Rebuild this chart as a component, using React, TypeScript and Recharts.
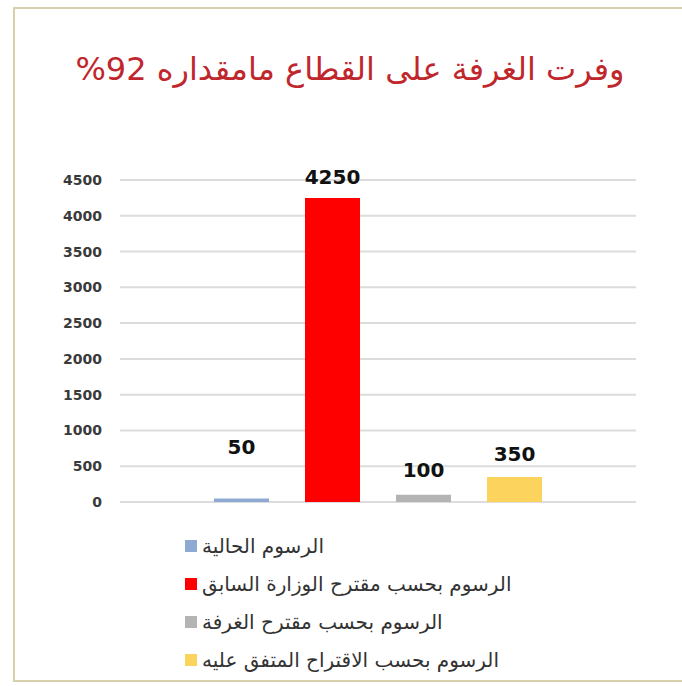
import React from 'react';
import { BarChart, Bar, XAxis, YAxis, CartesianGrid, LabelList } from 'recharts';

const seriesNames = [
  'الرسوم الحالية',
  'الرسوم بحسب مقترح الوزارة السابق',
  'الرسوم بحسب مقترح الغرفة',
  'الرسوم بحسب الاقتراح المتفق عليه',
];
const seriesValues = [50, 4250, 100, 350];
const seriesColors = ['#8eaad2', '#ff0000', '#b4b4b4', '#fbd35d'];
const labelOffsets = [44, 14, 18, 16];
const yTicks = [0, 500, 1000, 1500, 2000, 2500, 3000, 3500, 4000, 4500];
const title = 'وفرت الغرفة على القطاع مامقداره 92%';

const keys = seriesNames.map((_, i) => `s${i}`);
const row: Record<string, number | string> = { name: 'all' };
keys.forEach((k, i) => {
  row[k] = seriesValues[i];
});
const data = [row];

const App: React.FC = () => {
  return (
    <div style={{ position: 'absolute', left: 0, top: 0, width: 682, height: 686, background: '#fff', overflow: 'hidden' }}>
      <div
        style={{
          position: 'absolute',
          left: 13,
          top: 7,
          width: 700,
          height: 675,
          border: '2px solid #d8cfab',
          boxSizing: 'border-box',
        }}
      />
      <div
        dir="rtl"
        style={{
          position: 'absolute',
          left: 0,
          width: 700,
          top: 50,
          textAlign: 'center',
          fontFamily: '"DejaVu Sans", sans-serif',
          fontSize: 32,
          color: '#c0272d',
        }}
      >
        {title}
      </div>
      <div style={{ position: 'absolute', left: 0, top: 0 }}>
        <BarChart
          width={682}
          height={686}
          data={data}
          margin={{ top: 180, right: 46, left: 50, bottom: 184 }}
          barSize={55}
          barGap={36}
        >
          <CartesianGrid vertical={false} stroke="#dcdcdc" strokeWidth={2} />
          <XAxis dataKey="name" hide />
          <YAxis
            domain={[0, 4500]}
            ticks={yTicks}
            width={70}
            axisLine={false}
            tickLine={false}
            tickSize={0}
            tickMargin={18}
            tick={{ fill: '#3a3a3a', fontSize: 14, fontWeight: 'bold', fontFamily: '"DejaVu Sans", sans-serif' }}
          />
          {keys.map((k, i) => (
            <Bar key={k} dataKey={k} fill={seriesColors[i]} isAnimationActive={false}>
              <LabelList
                dataKey={k}
                position="top"
                offset={labelOffsets[i]}
                fill="#111"
                fontSize={20}
                fontWeight="bold"
                fontFamily='"DejaVu Sans", sans-serif'
              />
            </Bar>
          ))}
        </BarChart>
      </div>
      <div style={{ position: 'absolute', left: 185, top: 527 }}>
        {seriesNames.map((n, i) => (
          <div key={n} style={{ display: 'flex', alignItems: 'center', height: 38 }}>
            <span style={{ width: 12, height: 12, background: seriesColors[i], display: 'inline-block', marginRight: 5 }} />
            <span dir="rtl" style={{ fontFamily: '"DejaVu Sans", sans-serif', fontSize: 20, color: '#333' }}>
              {n}
            </span>
          </div>
        ))}
      </div>
    </div>
  );
};

export default App;
